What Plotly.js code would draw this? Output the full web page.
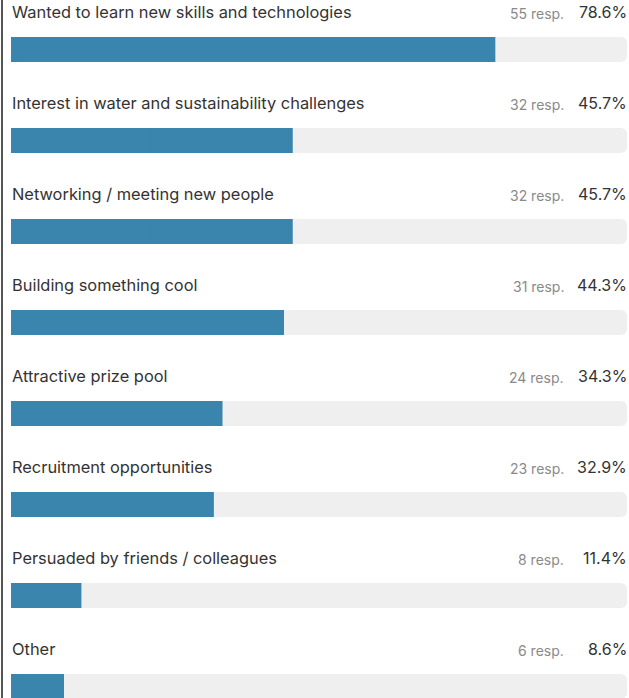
<!DOCTYPE html>
<html>
<head>
<meta charset="utf-8">
<script src="https://cdn.plot.ly/plotly-3.0.1.min.js"></script>
<style>
html,body{margin:0;padding:0;background:#fff;}
#chart{width:629px;height:698px;}
</style>
</head>
<body>
<div id="chart"></div>
<script>
const categories = [
  "Wanted to learn new skills and technologies",
  "Interest in water and sustainability challenges",
  "Networking / meeting new people",
  "Building something cool",
  "Attractive prize pool",
  "Recruitment opportunities",
  "Persuaded by friends / colleagues",
  "Other"
];
const responses = [55, 32, 32, 31, 24, 23, 8, 6];
const percents = [78.6, 45.7, 45.7, 44.3, 34.3, 32.9, 11.4, 8.6];
const trackMax = 100;

const FONT = "Inter, Liberation Sans, Arial, sans-serif";
const idx = categories.map((_, i) => i);
const ROW_PX = 91;             // pixels per row
const W = 25 / ROW_PX;         // 25 px high bars
const Y0 = -49.5 / ROW_PX;     // first bar centred at y = 49.5 px
const Y1 = Y0 + 698 / ROW_PX;
const BLUE = "#3a85ae";

// light grey track, rounded at both ends
const track = {
  type: "bar", orientation: "h",
  x: categories.map(() => trackMax), y: idx,
  width: W, marker: {color: "#efefef", opacity: 1, cornerradius: 6, line: {width: 0}}, hoverinfo: "skip"
};
// value bar, rounded
const bars = {
  type: "bar", orientation: "h",
  x: percents, y: idx,
  width: W, marker: {color: BLUE, opacity: 1, cornerradius: 6, line: {width: 0}}, hoverinfo: "skip"
};
// square cap over the right half of the value bar, so only the left end is rounded
const barsCap = {
  type: "bar", orientation: "h",
  x: percents.map(p => p / 2), base: percents.map(p => p / 2), y: idx,
  width: W, marker: {color: BLUE, opacity: 1, cornerradius: 0, line: {width: 0}}, hoverinfo: "skip"
};

const annotations = [];
categories.forEach((c, i) => {
  annotations.push({
    x: 0, y: i, xref: "x", yref: "y", text: c, showarrow: false,
    xanchor: "left", yanchor: "middle", yshift: 37.5, xshift: -1,
    font: {family: FONT, size: 16.4, color: "#333333"}
  });
  annotations.push({
    x: trackMax, y: i, xref: "x", yref: "y", text: percents[i].toFixed(1) + "%", showarrow: false,
    xanchor: "right", yanchor: "middle", yshift: 37.5, xshift: 2,
    font: {family: FONT, size: 16, color: "#333333"}
  });
  annotations.push({
    x: trackMax, y: i, xref: "x", yref: "y", text: responses[i] + " resp.", showarrow: false,
    xanchor: "right", yanchor: "middle", yshift: 36.5, xshift: -61,
    font: {family: FONT, size: 14, color: "#8a8a8a"}
  });
});

const layout = {
  width: 629, height: 698,
  margin: {l: 11, r: 2, t: 0, b: 0, pad: 0},
  paper_bgcolor: "#ffffff", plot_bgcolor: "#ffffff",
  barmode: "overlay",
  showlegend: false,
  xaxis: {range: [0, 100], visible: false, fixedrange: true},
  yaxis: {range: [Y1, Y0], visible: false, fixedrange: true},
  annotations: annotations,
  shapes: [{
    type: "line", xref: "paper", yref: "paper",
    x0: -0.0146, x1: -0.0146, y0: 0, y1: 1,
    line: {color: "#555555", width: 2}
  }]
};

Plotly.newPlot("chart", [track, bars, barsCap], layout, {displayModeBar: false, staticPlot: true});
</script>
</body>
</html>
